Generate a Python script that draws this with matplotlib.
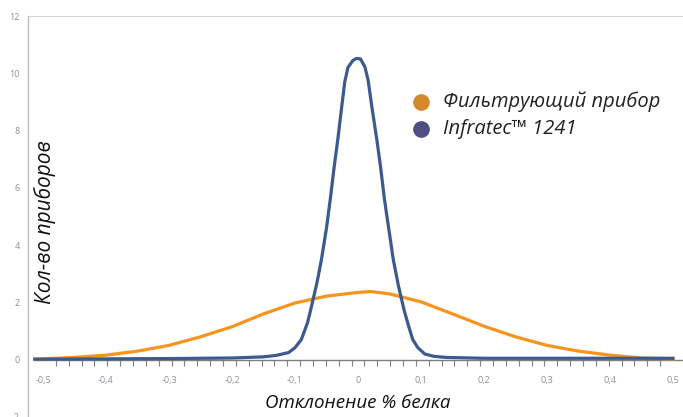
import matplotlib
matplotlib.use("Agg")
import matplotlib.pyplot as plt
import numpy as np

# values
filter_x = [-0.513, -0.5, -0.45, -0.4, -0.35, -0.3, -0.25, -0.2, -0.15, -0.1, -0.05,
            0.0, 0.02, 0.05, 0.1, 0.15, 0.2, 0.25, 0.3, 0.35, 0.4, 0.45, 0.5]
filter_y = [0.02, 0.03, 0.08, 0.16, 0.3, 0.5, 0.8, 1.15, 1.6, 1.98, 2.22,
            2.35, 2.38, 2.3, 2.02, 1.6, 1.17, 0.8, 0.5, 0.3, 0.16, 0.06, 0.03]

infratec_x = [-0.513, -0.5, -0.4, -0.3, -0.2, -0.15, -0.13, -0.11, -0.1, -0.09,
              -0.08, -0.075, -0.065, -0.058, -0.05, -0.044, -0.038, -0.032, -0.026,
              -0.021, -0.016, -0.008, -0.002, 0.004, 0.011, 0.016, 0.022, 0.03,
              0.036, 0.042, 0.05, 0.056, 0.064, 0.073, 0.08, 0.087, 0.095, 0.106,
              0.12, 0.14, 0.2, 0.3, 0.4, 0.5]
infratec_y = [0.02, 0.02, 0.03, 0.04, 0.06, 0.1, 0.15, 0.25, 0.42, 0.7,
              1.3, 1.75, 2.7, 3.5, 4.6, 5.6, 6.7, 7.7, 8.8,
              9.7, 10.2, 10.45, 10.52, 10.5, 10.22, 9.77, 8.83, 7.67,
              6.7, 5.6, 4.4, 3.5, 2.6, 1.75, 1.2, 0.7, 0.42, 0.2,
              0.12, 0.08, 0.05, 0.05, 0.05, 0.05]

x_ticks = [-0.5, -0.4, -0.3, -0.2, -0.1, 0.0, 0.1, 0.2, 0.3, 0.4, 0.5]
x_labels = ["-0,5", "-0,4", "-0,3", "-0,2", "-0,1", "0", "0,1", "0,2", "0,3", "0,4", "0,5"]
y_ticks = [-2, 0, 2, 4, 6, 8, 10, 12]

legend_names = ["Фильтрующий прибор", "Infratec\u2122 1241"]
legend_colors = ["#d4882f", "#4e4f80"]

plt.rcParams["font.family"] = ["Open Sans", "DejaVu Sans"]

fig = plt.figure(figsize=(6.83, 4.17), dpi=100)
ax = fig.add_axes([28 / 683, 0, 655 / 683, 401 / 417])

ax.set_xlim(-0.5238, 0.5159)
ax.set_ylim(-2, 12)

ax.plot(filter_x, filter_y, color="#f7941d", lw=2.3, solid_joinstyle="round", zorder=3)
ax.plot(infratec_x, infratec_y, color="#3d5a8e", lw=2.3, solid_joinstyle="round", zorder=4)

# top gridline
ax.axhline(12, color="#d0d0d0", lw=1.2, zorder=1)

for s in ["top", "right"]:
    ax.spines[s].set_visible(False)
ax.spines["left"].set_color("#bdbdbd")
ax.spines["left"].set_linewidth(1.0)
ax.spines["bottom"].set_position(("data", 0))
ax.spines["bottom"].set_bounds(-0.513, 0.5159)
ax.spines["bottom"].set_color("#7f7f7f")
ax.spines["bottom"].set_linewidth(1.0)
ax.spines["bottom"].set_zorder(2)

ax.set_yticks(y_ticks)
ax.set_yticklabels([str(v) for v in y_ticks])
ax.tick_params(axis="y", length=0, pad=6, labelsize=6.5, labelcolor="#8a8f99")

ax.set_xticks(x_ticks)
ax.set_xticklabels(x_labels)
ax.set_xticks(np.linspace(-0.5, 0.5, 50), minor=True)
ax.tick_params(axis="x", which="major", length=0, pad=12, labelsize=6.5, labelcolor="#8a8f99")
ax.tick_params(axis="x", which="minor", length=4, width=0.8, color="#7f7f7f", direction="out")

ax.text(-0.497, 4.8, "Кол-во приборов", rotation=90, fontsize=15, style="italic",
        ha="center", va="center", color="#111111")
ax.text(0.0, -1.5, "Отклонение % белка", fontsize=13.5, style="italic",
        ha="center", va="center", color="#111111")

# legend drawn by hand like the reference
leg_y = [9.0, 8.05]
for name, col, yy in zip(legend_names, legend_colors, leg_y):
    ax.plot([0.1], [yy], "o", ms=11, color=col, zorder=5, clip_on=False)
    ax.text(0.135, yy, name, fontsize=14.5, style="italic", ha="left", va="center",
            color="#222222")

fig.savefig("out.png", dpi=100)
